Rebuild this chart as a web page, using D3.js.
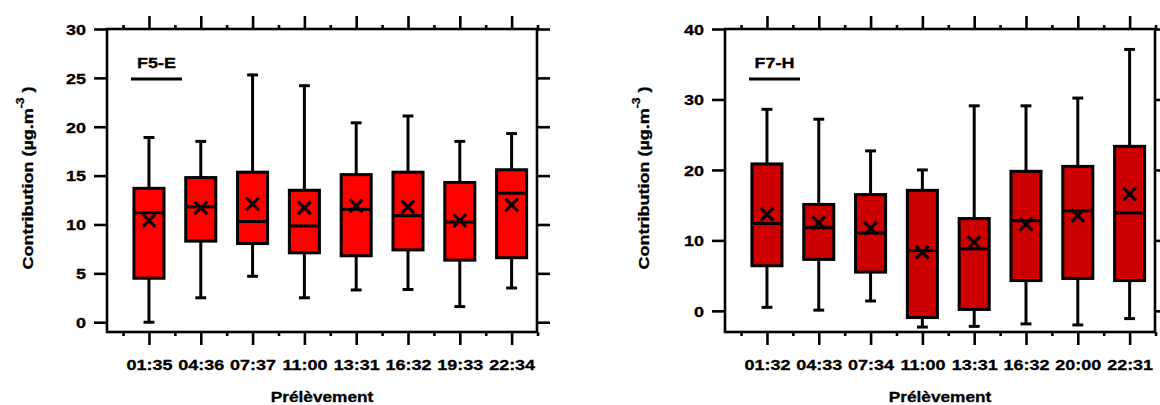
<!DOCTYPE html>
<html>
<head>
<meta charset="utf-8">
<script src="https://cdn.jsdelivr.net/npm/d3@7"></script>
<style>
  html, body { margin: 0; padding: 0; background: #fff; }
  svg { display: block; }
  text { font-family: "Liberation Sans", Arial, sans-serif; font-weight: bold; fill: #000; stroke: #000; stroke-width: 0.3px; }
</style>
</head>
<body>
<svg id="chart" width="1160" height="405"></svg>
<script>
// ---------- data ----------
const catsF5 = ["01:35", "04:36", "07:37", "11:00", "13:31", "16:32", "19:33", "22:34"];
const minF5  = [0.0, 2.5, 4.7, 2.5, 3.3, 3.35, 1.6, 3.5];
const q1F5   = [4.5, 8.3, 8.05, 7.1, 6.8, 7.4, 6.35, 6.6];
const medF5  = [11.2, 11.8, 10.3, 9.85, 11.55, 10.9, 10.25, 13.2];
const meanF5 = [10.4, 11.7, 12.1, 11.7, 11.9, 11.8, 10.4, 12.0];
const q3F5   = [13.7, 14.8, 15.35, 13.5, 15.1, 15.35, 14.3, 15.6];
const maxF5  = [18.9, 18.5, 25.3, 24.2, 20.4, 21.1, 18.5, 19.3];
const yTicksF5 = [0, 5, 10, 15, 20, 25, 30];

const catsF7 = ["01:32", "04:33", "07:34", "11:00", "13:31", "16:32", "20:00", "22:31"];
const minF7  = [0.5, 0.1, 1.4, -2.3, -2.2, -1.85, -2.0, -1.1];
const q1F7   = [6.4, 7.3, 5.5, -0.95, 0.2, 4.3, 4.6, 4.3];
const medF7  = [12.4, 11.8, 11.05, 8.55, 8.8, 12.8, 14.2, 13.9];
const meanF7 = [13.7, 12.5, 11.7, 8.3, 9.7, 12.3, 13.5, 16.6];
const q3F7   = [20.85, 15.1, 16.5, 17.1, 13.1, 19.8, 20.5, 23.35];
const maxF7  = [28.6, 27.2, 22.7, 20.0, 29.1, 29.1, 30.2, 37.1];
const yTicksF7 = [0, 10, 20, 30, 40];

const xTitle = "Prélèvement";
const yTitleMain = "Contribution (µg.m";
const yTitleSup = "-3";
const yTitleEnd = " )";

// ---------- drawing ----------
const svg = d3.select("#chart");
const SX = 1.2;        // horizontal stretch of the glyphs
const FS = 15;
const LW = 2.6;

function panel(cfg) {
  const { x0, x1, top, bottom, yDomain, cats, mins, q1s, meds, means, q3s, maxs, yTicks, fill, title, yLabelX } = cfg;
  const g = svg.append("g");
  const x = d3.scaleLinear().domain([-0.81, 7.49]).range([x0, x1]);
  const y = d3.scaleLinear().domain(yDomain).range([bottom, top]);
  const idx = d3.range(cats.length);
  const halfBox = 0.29, halfCap = 0.105;

  // whiskers
  const wg = g.append("g").attr("stroke", "#000").attr("stroke-width", 3);
  idx.forEach(i => {
    wg.append("line").attr("x1", x(i)).attr("x2", x(i)).attr("y1", y(q3s[i])).attr("y2", y(maxs[i]));
    wg.append("line").attr("x1", x(i)).attr("x2", x(i)).attr("y1", y(q1s[i])).attr("y2", y(mins[i]));
    wg.append("line").attr("x1", x(i - halfCap)).attr("x2", x(i + halfCap)).attr("y1", y(maxs[i])).attr("y2", y(maxs[i]));
    wg.append("line").attr("x1", x(i - halfCap)).attr("x2", x(i + halfCap)).attr("y1", y(mins[i])).attr("y2", y(mins[i]));
  });
  // boxes
  g.append("g").selectAll("rect").data(idx).join("rect")
    .attr("x", i => x(i - halfBox))
    .attr("width", i => x(i + halfBox) - x(i - halfBox))
    .attr("y", i => y(q3s[i]))
    .attr("height", i => y(q1s[i]) - y(q3s[i]))
    .attr("fill", fill).attr("stroke", "#000").attr("stroke-width", 3);
  // medians
  g.append("g").selectAll("line").data(idx).join("line")
    .attr("x1", i => x(i - halfBox)).attr("x2", i => x(i + halfBox))
    .attr("y1", i => y(meds[i])).attr("y2", i => y(meds[i]))
    .attr("stroke", "#000").attr("stroke-width", 3);
  // means (x markers)
  const mg = g.append("g").attr("stroke", "#000").attr("stroke-width", 3);
  const r = 6.3;
  idx.forEach(i => {
    const cx = x(i), cy = y(means[i]);
    mg.append("path").attr("d", `M${cx - r},${cy - r}L${cx + r},${cy + r}M${cx - r},${cy + r}L${cx + r},${cy - r}`);
  });

  // axes
  function styleAxis(sel) {
    sel.select(".domain").remove();
    sel.selectAll(".tick line").attr("stroke", "#000").attr("stroke-width", LW);
  }
  const la = g.append("g").attr("transform", `translate(${x0},0)`)
    .call(d3.axisLeft(y).tickValues(yTicks).tickSize(13).tickFormat(d3.format("d")));
  styleAxis(la);
  la.selectAll(".tick text")
    .attr("font-size", FS).attr("font-family", "Liberation Sans, Arial, sans-serif").attr("font-weight", "bold")
    .attr("x", -21 / SX).attr("dy", null).attr("y", 5.3)
    .attr("transform", `scale(${SX},1)`);
  const ra = g.append("g").attr("transform", `translate(${x1},0)`)
    .call(d3.axisRight(y).tickValues(yTicks).tickSize(13).tickFormat(""));
  styleAxis(ra);
  const ba = g.append("g").attr("transform", `translate(0,${bottom})`)
    .call(d3.axisBottom(x).tickValues(idx).tickSize(13).tickFormat(i => cats[i]));
  styleAxis(ba);
  ba.selectAll(".tick text")
    .attr("font-size", FS).attr("font-family", "Liberation Sans, Arial, sans-serif").attr("font-weight", "bold")
    .attr("dy", null).attr("y", 38)
    .attr("transform", `scale(${SX},1)`);
  const ta = g.append("g").attr("transform", `translate(0,${top})`)
    .call(d3.axisTop(x).tickValues(idx).tickSize(13).tickFormat(""));
  styleAxis(ta);
  const minor = d3.range(-0.5, 8, 1);
  styleAxis(g.append("g").attr("transform", `translate(0,${bottom})`)
    .call(d3.axisBottom(x).tickValues(minor).tickSize(4).tickFormat("")));
  styleAxis(g.append("g").attr("transform", `translate(0,${top})`)
    .call(d3.axisTop(x).tickValues(minor).tickSize(4).tickFormat("")));

  // frame
  g.append("rect").attr("x", x0).attr("y", top).attr("width", x1 - x0).attr("height", bottom - top)
    .attr("fill", "none").attr("stroke", "#000").attr("stroke-width", LW);

  // panel title with underline
  g.append("text").attr("transform", `translate(${x0 + 49.5},68) scale(${SX},1)`)
    .attr("text-anchor", "middle").attr("font-size", FS).text(title);
  g.append("line").attr("x1", x0 + 24).attr("x2", x0 + 75).attr("y1", 79).attr("y2", 79)
    .attr("stroke", "#000").attr("stroke-width", 3);

  // x title
  g.append("text").attr("transform", `translate(${(x0 + x1) / 2},402) scale(${SX * 0.96},1)`)
    .attr("text-anchor", "middle").attr("font-size", FS).text(xTitle);

  // y title
  const yt = g.append("text").attr("transform", `translate(${yLabelX},178) rotate(-90) scale(${SX},1)`)
    .attr("text-anchor", "middle").attr("font-size", FS);
  yt.append("tspan").text(yTitleMain);
  yt.append("tspan").attr("font-size", 10).attr("dy", -9).text(yTitleSup);
  yt.append("tspan").attr("dy", 9).text(yTitleEnd);
}

panel({ x0: 107, x1: 537, top: 29, bottom: 332, yDomain: [-1, 30],
  cats: catsF5, mins: minF5, q1s: q1F5, meds: medF5, means: meanF5, q3s: q3F5, maxs: maxF5,
  yTicks: yTicksF5, fill: "#ff0000", title: "F5-E", yLabelX: 33 });
panel({ x0: 725, x1: 1155, top: 29, bottom: 332, yDomain: [-3, 40],
  cats: catsF7, mins: minF7, q1s: q1F7, meds: medF7, means: meanF7, q3s: q3F7, maxs: maxF7,
  yTicks: yTicksF7, fill: "#cc0000", title: "F7-H", yLabelX: 649 });
</script>
</body>
</html>
